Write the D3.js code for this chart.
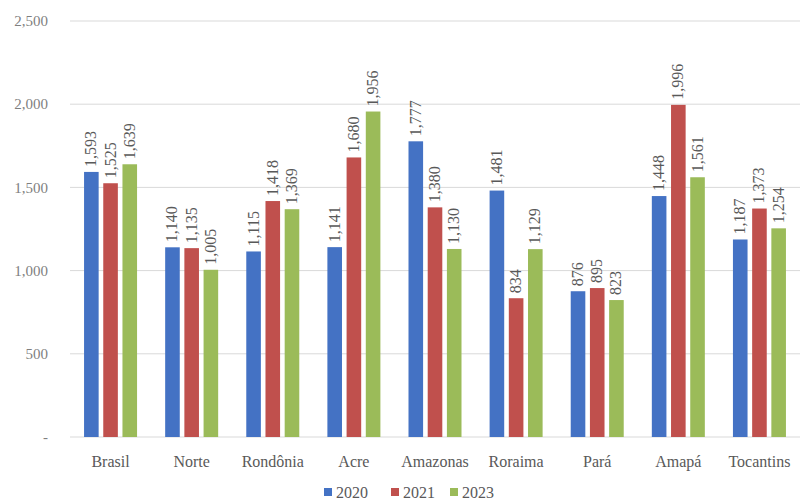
<!DOCTYPE html>
<html><head><meta charset="utf-8">
<script src="https://cdn.jsdelivr.net/npm/d3@7"></script>
<style>body{margin:0;background:#fff}</style>
</head><body>
<svg id="c" width="800" height="500"></svg>
<script>
const categories = ["Brasil","Norte","Rondônia","Acre","Amazonas","Roraima","Pará","Amapá","Tocantins"];
const seriesNames = ["2020","2021","2023"];
const v2020 = [1593,1140,1115,1141,1777,1481,876,1448,1187];
const v2021 = [1525,1135,1418,1680,1380,834,895,1996,1373];
const v2023 = [1639,1005,1369,1956,1130,1129,823,1561,1254];
const tickValues = [0,500,1000,1500,2000,2500];
const colors = ["#4472C4","#C0504D","#9BBB59"];
const series = [v2020, v2021, v2023];

const svg = d3.select("#c");
const FONT = '"Liberation Serif", "Times New Roman", serif';
const m = {l:70, r:0, t:21, b:63};
const W = 800, H = 500;
const x = d3.scaleBand().domain(categories).range([m.l, W - m.r]).paddingInner(0).paddingOuter(0);
const y = d3.scaleLinear().domain([0,2500]).range([H - m.b, m.t]);
const x1 = d3.scaleBand().domain(seriesNames).range([0, 53]).paddingInner(0.24);
const groupOff = (x.bandwidth() - 53) / 2;

// grid
svg.append("g").selectAll("line").data(tickValues).join("line")
  .attr("x1", m.l).attr("x2", W).attr("y1", d => y(d)).attr("y2", d => y(d))
  .attr("stroke", "#d9d9d9").attr("stroke-width", 1);

// y labels
svg.append("g").selectAll("text").data(tickValues).join("text")
  .attr("x", 48).attr("y", d => y(d)).attr("dy", "0.35em")
  .attr("text-anchor", "end").style("font-family", FONT).style("font-size", "15px").attr("fill", "#7f7f7f")
  .text(d => d === 0 ? "-" : d3.format(",")(d));

// bars
const groups = svg.append("g").selectAll("g").data(categories).join("g")
  .attr("transform", d => `translate(${x(d) + groupOff},0)`);

groups.each(function(cat, i) {
  const g = d3.select(this);
  seriesNames.forEach((s, j) => {
    const val = series[j][i];
    g.append("rect").attr("x", x1(s)).attr("width", x1.bandwidth())
      .attr("y", y(val)).attr("height", y(0) - y(val)).attr("fill", colors[j]);
    const cx = x1(s) + x1.bandwidth()/2;
    g.append("text")
      .attr("transform", `translate(${cx + 5},${y(val) - 5}) rotate(-90)`)
      .style("font-family", FONT).style("font-size", "16px").attr("fill", "#595959")
      .text(d3.format(",")(val));
  });
});

// x labels
svg.append("g").selectAll("text").data(categories).join("text")
  .attr("x", d => x(d) + x.bandwidth()/2).attr("y", 467)
  .attr("text-anchor", "middle").style("font-family", FONT).style("font-size", "16px").attr("fill", "#595959")
  .text(d => d);

// legend
const legX = [324, 391, 450];
const leg = svg.append("g").selectAll("g").data(seriesNames).join("g")
  .attr("transform", (d, i) => `translate(${legX[i]},492)`);
leg.append("rect").attr("x", 0).attr("y", -4).attr("width", 8).attr("height", 8).attr("fill", (d, i) => colors[i]);
leg.append("text").attr("x", 12).attr("y", 0).attr("dy", "0.35em")
  .style("font-family", FONT).style("font-size", "16px").attr("fill", "#595959").text(d => d);
</script>
</body></html>
